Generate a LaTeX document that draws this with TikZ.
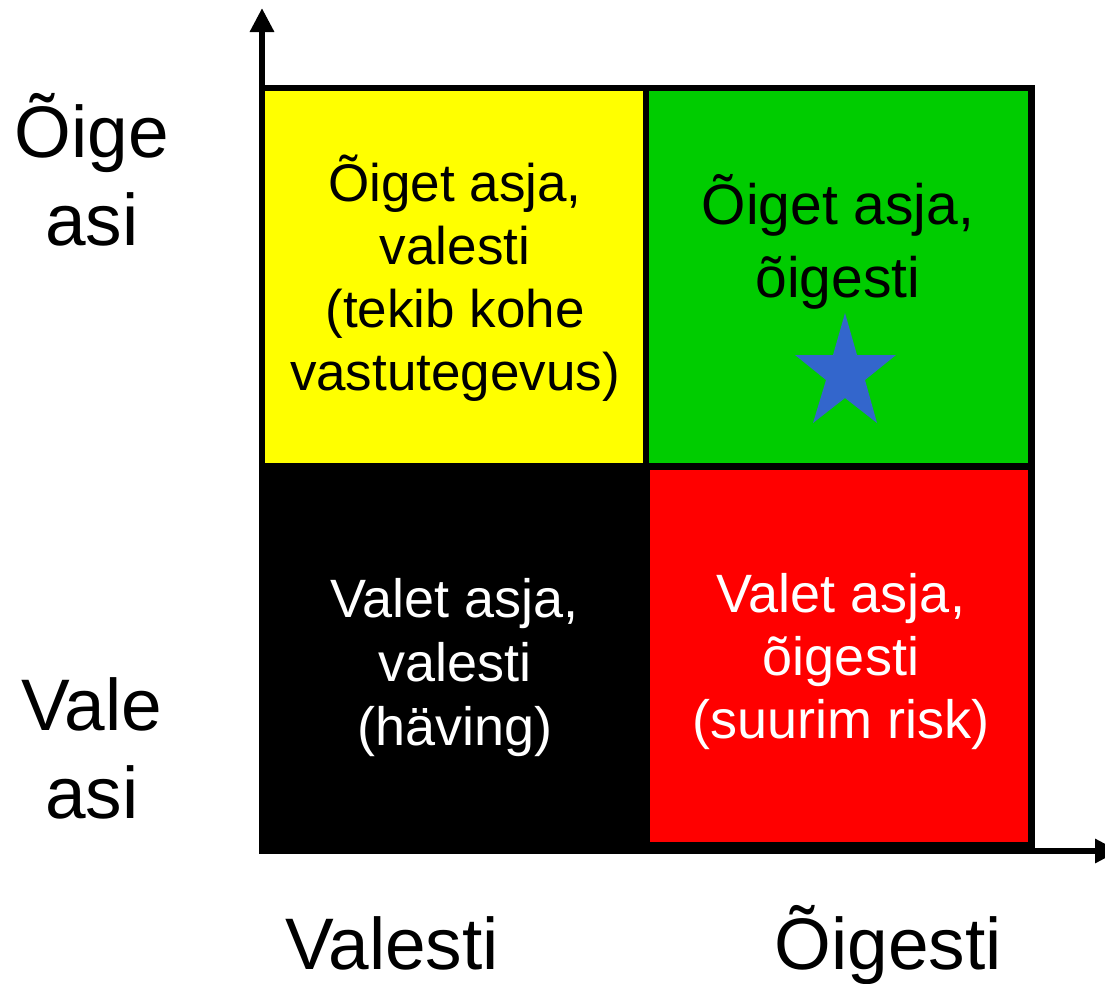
\documentclass[tikz,border=0pt]{standalone}
\usepackage{fontspec}
\setmainfont{Liberation Sans}
\usetikzlibrary{arrows.meta}
\definecolor{qyellow}{RGB}{255,255,0}
\definecolor{qgreen}{RGB}{0,204,0}
\definecolor{qred}{RGB}{255,0,0}
\definecolor{qstar}{RGB}{51,102,204}
\tikzset{
  border/.style={draw=black,line width=6.5pt},
  axis/.style={line width=6pt,-{Triangle[length=24pt,width=23pt]}},
  axlabel/.style={inner sep=0pt,anchor=base,align=center,font=\fontsize{73}{88}\selectfont},
  qtext/.style={inner sep=0pt,anchor=base,align=center},
}
\begin{document}
\begin{tikzpicture}[x=1pt,y=-1pt]
\useasboundingbox (0,0) rectangle (1105,983);
\clip (0,0) rectangle (1105,983);
% quadrants
\fill[black] (259,463) rectangle (650,854);
\path[fill=qyellow,border] (262,88) rectangle (646,466);
\path[fill=qgreen,border] (646,88) rectangle (1031.5,466.5);
\path[fill=qred,border] (646.5,466.5) rectangle (1031.5,845);
% star
\fill[qstar] (845,313) -- (857,355) -- (896,355) -- (865,380) -- (877,423)
  -- (845,398) -- (813,423) -- (826,380) -- (795,355) -- (833,355) -- cycle;
% axes
\coordinate (origin) at (262,851);
\coordinate (ytop) at (262,8);
\coordinate (xend) at (1119,851);
\draw[axis] (259,851) -- (xend);
\draw[axis] (origin) -- (ytop);
% quadrant texts (node placed at the baseline of the last line)
\node[qtext,text=black,font=\fontsize{53}{62.7}\selectfont] (tl) at (455,390)
  {Õiget asja,\\valesti\\(tekib kohe\hspace*{.278em}\\vastutegevus)};
\node[qtext,text=black,font=\fontsize{57}{73}\selectfont] (tr) at (838,297)
  {Õiget asja,\\õigesti};
\node[qtext,text=white,font=\fontsize{54}{64}\selectfont] (bl) at (455,745)
  {Valet asja,\\valesti\\(häving)};
\node[qtext,text=white,font=\fontsize{54}{63}\selectfont] (br) at (841,738)
  {Valet asja,\\õigesti\\(suurim risk)};
% axis labels
\node[axlabel] (yhigh) at (92,245) {Õige\\asi};
\node[axlabel] (ylow) at (92,818) {Vale\\asi};
\node[axlabel] (xlow) at (392,969) {Valesti};
\node[axlabel] (xhigh) at (888,969) {Õigesti};
\end{tikzpicture}
\end{document}
